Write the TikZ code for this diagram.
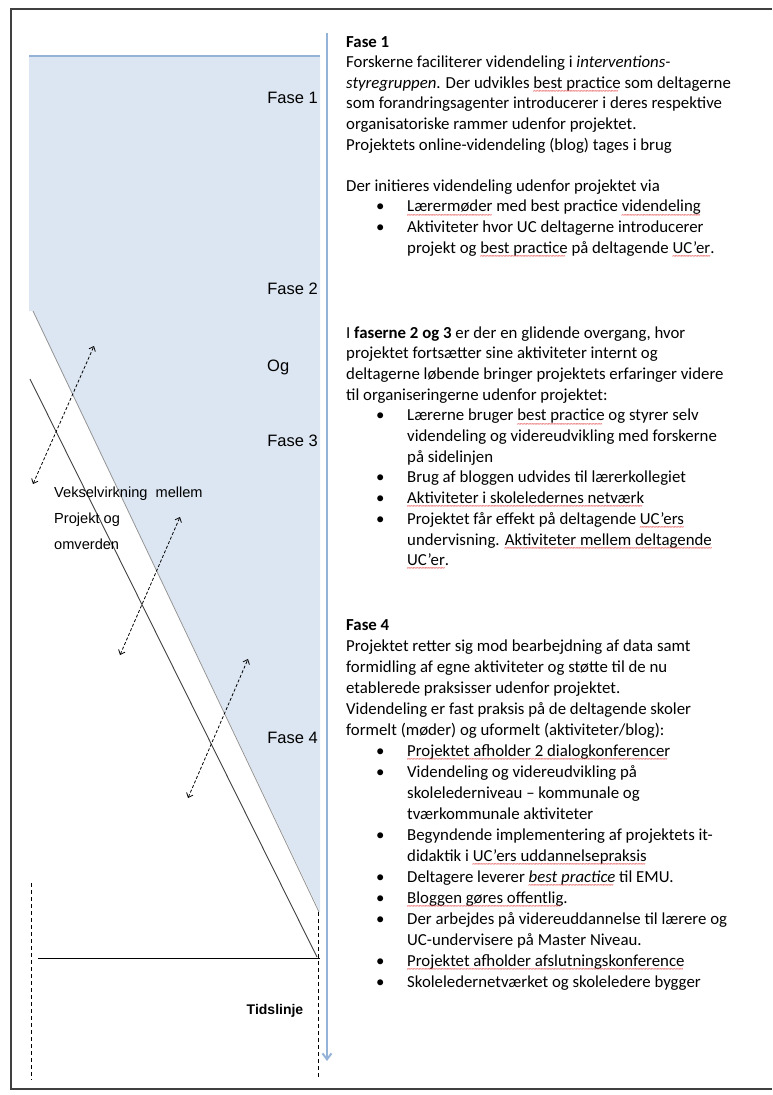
\documentclass[tikz,border=0pt]{standalone}
\usepackage{fontspec}
\setmainfont{Carlito}
\newfontfamily\arialf{Liberation Sans}
\usetikzlibrary{arrows.meta}
\definecolor{shadeblue}{HTML}{DCE6F2}
\definecolor{lineblue}{HTML}{95B3D7}
\definecolor{framegray}{HTML}{404040}
\definecolor{squig}{HTML}{E02020}
\newsavebox\sqbox
\newcommand\sq[1]{\sbox\sqbox{#1}\rlap{\usebox\sqbox}\raisebox{-5.2pt}{\textcolor{squig}{\fontsize{7.5}{7.5}\selectfont\leaders\hbox{\kern-0.3pt\char126\kern-0.3pt}\hskip\wd\sqbox}}}
\newcommand\blk[2]{\parbox[t]{430pt}{\raggedright\fontsize{16.8}{#1}\selectfont\lineskiplimit=-30pt\relax #2}}
\newcommand\bi{\hspace*{30pt}\makebox[31pt][l]{•}}
\newcommand\bc{\hspace*{61pt}}
\tikzset{
  lbl/.style={font=\arialf\fontsize{16.5}{19}\selectfont, inner sep=0pt},
  txt/.style={inner sep=0pt, text=black},
  frame/.style={draw=framegray, line width=1.4pt},
  boundary/.style={draw=gray!85, line width=0.8pt},
  projline/.style={draw=black!75, line width=0.9pt},
  dasharrow/.style={draw=black, line width=0.8pt, dash pattern=on 3pt off 2pt,
    {Straight Barb[length=4pt,width=7pt]}-{Straight Barb[length=4pt,width=7pt]}},
  dashline/.style={draw=black, line width=0.8pt, dash pattern=on 4pt off 3pt},
  timeline/.style={draw=lineblue, line width=2pt, -{Straight Barb[length=6pt,width=9pt]}}
}
\begin{document}
\begin{tikzpicture}[x=1pt,y=-1pt]
\useasboundingbox (0,0) rectangle (772,1095);
% frame
\coordinate (fa) at (772,9);
\coordinate (fb) at (11,9);
\coordinate (fc) at (11,1089);
\coordinate (fd) at (772,1089);
\draw[frame] (fa) -- (fb) -- (fc) -- (fd);
% shaded region
\coordinate (tl) at (29,57);
\coordinate (tr) at (320,57);
\coordinate (br) at (320,912);
\coordinate (dg) at (33,311);
\coordinate (lb) at (29,311);
\fill[shadeblue] (tl) -- (tr) -- (br) -- (dg) -- (lb) -- cycle;
\coordinate (ta) at (29,56);
\coordinate (tb) at (320,56);
\draw[lineblue, line width=1.5pt] (ta) -- (tb);
\coordinate (ge) at (319,912);
\draw[boundary] (dg) -- (ge);
% project line
\coordinate (pa) at (30,379);
\coordinate (pb) at (317,957);
\draw[projline] (pa) -- (pb);
% horizontal line
\coordinate (ha) at (38,958);
\coordinate (hb) at (320,958);
\draw[black, line width=0.8pt] (ha) -- (hb);
% dashed verticals
\coordinate (la) at (31,883);
\coordinate (lz) at (31,1080);
\draw[dashline] (la) -- (lz);
\coordinate (ra) at (318.5,912);
\coordinate (rz) at (318.5,1077);
\draw[dashline] (ra) -- (rz);
% time arrow
\coordinate (aa) at (327,33);
\coordinate (az) at (327,1061);
\draw[timeline] (aa) -- (az);
% interaction arrows
\coordinate (x1a) at (33,484); \coordinate (x1b) at (94,346);
\coordinate (x2a) at (120,655); \coordinate (x2b) at (180,517);
\coordinate (x3a) at (188,798); \coordinate (x3b) at (248,659);
\draw[dasharrow] (x1a) -- (x1b);
\draw[dasharrow] (x2a) -- (x2b);
\draw[dasharrow] (x3a) -- (x3b);
% phase labels
\node[lbl, anchor=base east] (f1) at (318,103) {Fase 1};
\node[lbl, anchor=base east] (f2) at (318,294) {Fase 2};
\node[lbl, anchor=base west] (og) at (267,371) {Og};
\node[lbl, anchor=base east] (f3) at (318,446) {Fase 3};
\node[lbl, anchor=base east] (f4) at (318,743) {Fase 4};
\node[txt, anchor=base west] (vek) at (54,497) {\parbox[t]{200pt}{\arialf\fontsize{14.6}{26}\selectfont\lineskiplimit=-30pt\relax Vekselvirkning\ \ mellem\\Projekt og\\omverden}};
\node[txt, anchor=base] (tid) at (275,1014) {\arialf\bfseries\fontsize{14}{16}\selectfont Tidslinje};
% text blocks
\node[txt, anchor=base west] (t1) at (346,47) {\blk{20.6}{%
\textbf{Fase 1}\\
Forskerne faciliterer videndeling i \textit{interventions-}\\
\textit{styregruppen}. Der udvikles \sq{best practice} som deltagerne\\
som forandringsagenter introducerer i deres respektive\\
organisatoriske rammer udenfor projektet.\\
Projektets online-videndeling (blog) tages i brug\\
\mbox{}\\
Der initieres videndeling udenfor projektet via\\
\bi\sq{Lærermøder} med best practice \sq{videndeling}\\
\bi Aktiviteter hvor UC deltagerne introducerer\\
\bc projekt og \sq{best practice} på deltagende \sq{UC’er}.}};
\node[txt, anchor=base west] (t2) at (346,338) {\blk{20.7}{%
I \textbf{faserne 2 og 3} er der en glidende overgang, hvor\\
projektet fortsætter sine aktiviteter internt og\\
deltagerne løbende bringer projektets erfaringer videre\\
til organiseringerne udenfor projektet:\\
\bi Lærerne bruger \sq{best practice} og styrer selv\\
\bc videndeling og videreudvikling med forskerne\\
\bc på sidelinjen\\
\bi Brug af bloggen udvides til lærerkollegiet\\
\bi\sq{Aktiviteter i skoleledernes netværk}\\
\bi Projektet får effekt på deltagende \sq{UC’ers}\\
\bc undervisning. \sq{Aktiviteter mellem deltagende}\\
\bc\sq{UC’er}.}};
\node[txt, anchor=base west] (t3) at (346,630) {\blk{21}{%
\textbf{Fase 4}\\
Projektet retter sig mod bearbejdning af data samt\\
formidling af egne aktiviteter og støtte til de nu\\
etablerede praksisser udenfor projektet.\\
Videndeling er fast praksis på de deltagende skoler\\
formelt (møder) og uformelt (aktiviteter/blog):\\
\bi\sq{Projektet afholder 2 dialogkonferencer}\\
\bi Videndeling og videreudvikling på\\
\bc skolelederniveau – kommunale og\\
\bc tværkommunale aktiviteter\\
\bi Begyndende implementering af projektets it-\\
\bc didaktik i \sq{UC’ers uddannelsepraksis}\\
\bi Deltagere leverer \sq{\textit{best practice}} til EMU.\\
\bi\sq{Bloggen gøres offentlig}.\\
\bi Der arbejdes på videreuddannelse til lærere og\\
\bc UC-undervisere på Master Niveau.\\
\bi\sq{Projektet afholder afslutningskonference}\\
\bi Skoleledernetværket og skoleledere bygger}};
\end{tikzpicture}
\end{document}
